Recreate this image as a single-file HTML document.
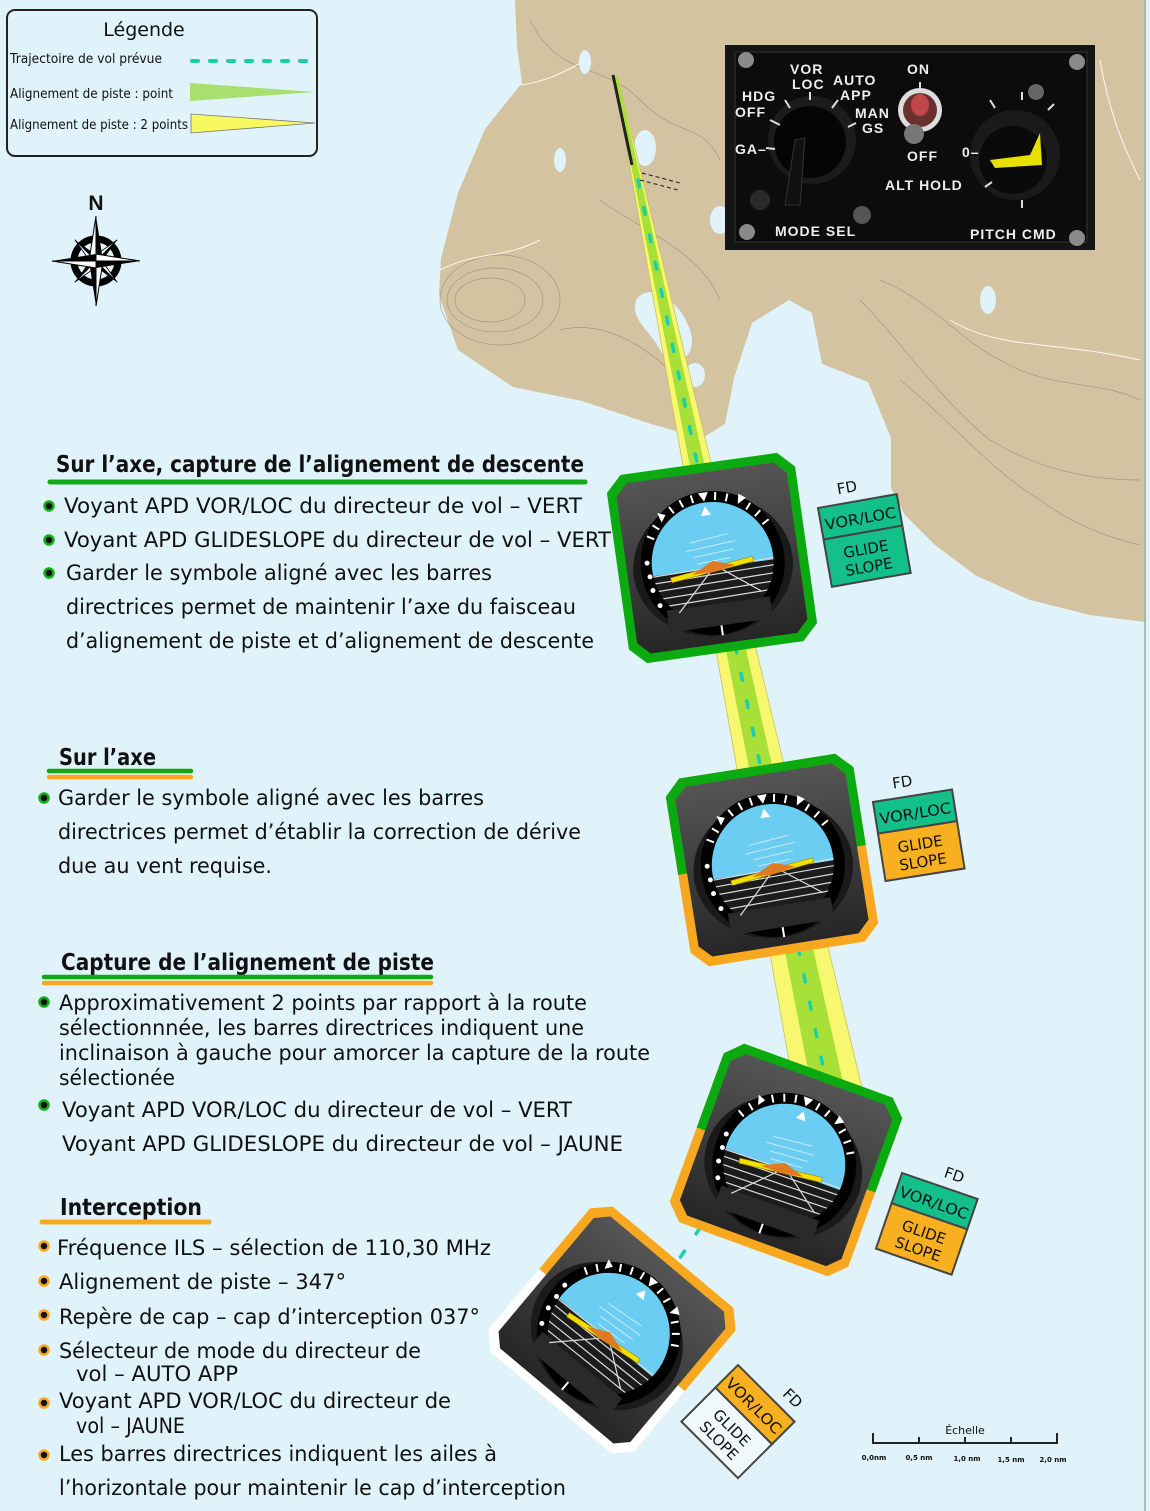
<!DOCTYPE html>
<html><head><meta charset="utf-8"><style>
html,body{margin:0;padding:0;background:#e0f2fa;}
svg{display:block;}
.t{font-family:"DejaVu Sans","Liberation Sans",sans-serif;font-size:21px;fill:#111;}
.h{font-family:"DejaVu Sans","Liberation Sans",sans-serif;font-size:23px;font-weight:bold;fill:#111;}
.p{font-family:"Liberation Sans",sans-serif;font-weight:bold;fill:#eee;font-size:14px;letter-spacing:1px;}
.fd{font-family:"DejaVu Sans","Liberation Sans",sans-serif;font-size:15px;fill:#111;}
</style></head><body>
<svg width="1150" height="1511" viewBox="0 0 1150 1511" xmlns="http://www.w3.org/2000/svg">
<defs>
<linearGradient id="fg" x1="0" y1="0" x2="0" y2="1"><stop offset="0" stop-color="#555"/><stop offset="1" stop-color="#262626"/></linearGradient>
<clipPath id="dial" clipPathUnits="userSpaceOnUse"><circle cx="0" cy="5" r="61"/></clipPath>
<clipPath id="top" clipPathUnits="userSpaceOnUse"><rect x="-130" y="-130" width="260" height="130"/></clipPath>
<g id="face">
<polygon points="-74,-86 74,-86 86,-74 86,74 74,86 -74,86 -86,74 -86,-74" fill="url(#fg)"/>
<ellipse cx="0" cy="8" rx="80" ry="70" fill="#1a1a1a"/>
<circle cx="0" cy="5" r="72" fill="#000"/>
<rect x="-52" y="46" width="104" height="22" fill="#2a2a2a"/>
<g clip-path="url(#dial)">
<rect x="-70" y="-70" width="140" height="80" fill="#6ccdf3"/>
<rect x="-70" y="10" width="140" height="36" fill="#1c1c1c"/>
<g stroke="#fff" stroke-width="1" opacity="0.6"><line x1="-20" y1="-18" x2="20" y2="-22"/><line x1="-25" y1="-10" x2="25" y2="-14"/><line x1="-18" y1="-3" x2="22" y2="-6"/><line x1="-15" y1="4" x2="18" y2="2"/></g>
<g stroke="#ddd" stroke-width="1.2"><line x1="-70" y1="11" x2="70" y2="8"/><line x1="-70" y1="18" x2="70" y2="15"/><line x1="-70" y1="26" x2="70" y2="23"/><line x1="-70" y1="34" x2="70" y2="31"/><line x1="-70" y1="42" x2="70" y2="39"/><line x1="0" y1="10" x2="-40" y2="50"/><line x1="5" y1="10" x2="45" y2="40"/></g>
</g>
<g stroke="#fff" stroke-width="2"><line x1="54.6" y1="-26.5" x2="61.5" y2="-30.5"/><line x1="48.3" y1="-35.5" x2="54.4" y2="-40.6"/><line x1="40.5" y1="-43.3" x2="45.6" y2="-49.4"/><line x1="21.5" y1="-54.2" x2="24.3" y2="-61.7"/><line x1="11" y1="-57" x2="12.4" y2="-64.9"/><line x1="-11" y1="-57" x2="-12.4" y2="-64.9"/><line x1="-21.5" y1="-54.2" x2="-24.3" y2="-61.7"/><line x1="-31.5" y1="-49.6" x2="-35.5" y2="-56.5"/><line x1="-48.3" y1="-35.5" x2="-54.4" y2="-40.6"/><line x1="-54.6" y1="-26.5" x2="-61.5" y2="-30.5"/><line x1="0" y1="68" x2="0" y2="78"/></g>
<polygon points="0,-57 -5,-66 5,-66" fill="#fff"/><polygon points="33,-50 35,-60 42,-55" fill="#fff"/><polygon points="-45,-42 -48,-52 -40,-49" fill="#fff"/>
<polygon points="0,-52 -5,-43 5,-43" fill="#fff"/>
<circle cx="-64" cy="10" r="2.5" fill="#fff"/><circle cx="-63" cy="24" r="2.5" fill="#fff"/><circle cx="-58" cy="40" r="2.5" fill="#fff"/><circle cx="-65" cy="-4" r="2.5" fill="#fff"/>
<polygon points="-44,14 40,4 41,9 -43,19" fill="#f2e000" stroke="#a08000" stroke-width="0.6"/>
<polygon points="-22,14 0,3 22,10 0,14" fill="#e07a20"/>
</g>
</defs>

<rect width="1150" height="1511" fill="#e0f2fa"/>
<!-- land -->
<path d="M515,0 L517,46 L522,83 L485,129 L458,193 L441,258 L439,295 L458,350 L513,387 L582,401 L651,424 L702,438 L725,424 L734,378 L752,323 L789,300 L812,313 L822,364 L868,382 L891,438 L891,488 L905,515 L935,545 L975,575 L1030,600 L1090,615 L1145,622 L1145,0 Z" fill="#d3c3a0"/>
<g fill="none" stroke="#8f8672" stroke-width="0.7" opacity="0.7">
<ellipse cx="490" cy="300" rx="35" ry="22"/><ellipse cx="495" cy="300" rx="48" ry="32"/><ellipse cx="500" cy="300" rx="60" ry="45"/>
<path d="M530,20 C560,80 600,60 640,100 C680,140 700,120 720,160"/><path d="M880,280 C930,300 960,340 1000,360 C1050,390 1100,380 1140,400"/>
<path d="M900,380 C950,420 990,470 1040,500 C1080,530 1120,540 1140,545"/><path d="M860,300 C900,340 940,400 990,440 C1040,470 1090,480 1140,480"/>
<path d="M600,200 C640,230 700,250 720,300"/><path d="M560,330 C600,320 640,340 680,380"/>
</g>
<g fill="none" stroke="#fff" stroke-width="1" opacity="0.9">
<path d="M520,85 C560,80 580,60 590,60"/><path d="M440,270 C480,250 500,260 540,240"/><path d="M950,320 C1000,350 1050,340 1140,360"/><path d="M1100,60 C1110,120 1130,160 1140,180"/>
</g>
<g fill="#e0f2fa"><ellipse cx="645" cy="148" rx="11" ry="18"/><ellipse cx="720" cy="220" rx="10" ry="14"/><path d="M636,300 C650,280 680,300 690,330 C700,360 670,370 660,350 C650,330 630,320 636,300Z"/><ellipse cx="585" cy="62" rx="6" ry="12"/><ellipse cx="695" cy="375" rx="10" ry="12"/><ellipse cx="988" cy="300" rx="8" ry="14"/><ellipse cx="560" cy="160" rx="6" ry="12"/></g>
<line x1="1145" y1="0" x2="1145" y2="1511" stroke="#9aa" stroke-width="1.5"/>

<!-- beam -->
<polygon points="614,78 618,78 865,1100 796,1100" fill="#f8f870" stroke="#c8c060" stroke-width="0.8"/>
<polygon points="614,78 618,78 847,1100 814,1100" fill="#a8e038"/>
<line x1="613" y1="75" x2="632" y2="165" stroke="#222" stroke-width="3"/>
<path d="M642,173 L680,183 M640,180 L678,190" stroke="#333" stroke-width="1.2" stroke-dasharray="4 3"/>
<line x1="638" y1="180" x2="830" y2="1100" stroke="#18d0b0" stroke-width="3.5" stroke-linecap="round" stroke-dasharray="7 21"/>
<line x1="700" y1="1228" x2="655" y2="1295" stroke="#18d0b0" stroke-width="3.5" stroke-linecap="round" stroke-dasharray="7 21"/>

<!-- legend -->
<rect x="7" y="10" width="310" height="146" rx="8" fill="#e0f2fa" stroke="#222" stroke-width="2"/>
<text x="144" y="36" font-family="DejaVu Sans,sans-serif" font-size="19" text-anchor="middle" fill="#111">Légende</text>
<text x="10" y="63" font-family="DejaVu Sans,sans-serif" font-size="13" fill="#111" textLength="152" lengthAdjust="spacingAndGlyphs">Trajectoire de vol prévue</text>
<text x="10" y="98" font-family="DejaVu Sans,sans-serif" font-size="13" fill="#111" textLength="163" lengthAdjust="spacingAndGlyphs">Alignement de piste : point</text>
<text x="10" y="129" font-family="DejaVu Sans,sans-serif" font-size="13" fill="#111" textLength="178" lengthAdjust="spacingAndGlyphs">Alignement de piste : 2 points</text>
<line x1="192" y1="61" x2="313" y2="61" stroke="#18d0a0" stroke-width="4" stroke-linecap="round" stroke-dasharray="6 12"/>
<polygon points="190,83 190,101 315,92" fill="#a8e070"/>
<polygon points="191,114 191,133 315,123" fill="#f8f860" stroke="#777" stroke-width="0.8"/>

<!-- compass -->
<text x="96" y="210" font-family="Liberation Sans,sans-serif" font-weight="bold" font-size="21" text-anchor="middle" fill="#111">N</text>
<g transform="translate(96,261)">
<circle r="22" fill="none" stroke="#000" stroke-width="7"/>
<g transform="rotate(45)"><polygon points="0,-30 5,0 0,0" fill="#000"/><polygon points="0,-30 -5,0 0,0" fill="#fff" stroke="#000" stroke-width="0.8"/><polygon points="0,30 -5,0 0,0" fill="#000"/><polygon points="0,30 5,0 0,0" fill="#fff" stroke="#000" stroke-width="0.8"/><polygon points="30,0 0,5 0,0" fill="#000"/><polygon points="30,0 0,-5 0,0" fill="#fff" stroke="#000" stroke-width="0.8"/><polygon points="-30,0 0,-5 0,0" fill="#000"/><polygon points="-30,0 0,5 0,0" fill="#fff" stroke="#000" stroke-width="0.8"/></g>
<polygon points="0,-45 7,0 0,0" fill="#000"/><polygon points="0,-45 -7,0 0,0" fill="#fff" stroke="#000"/>
<polygon points="0,45 -7,0 0,0" fill="#000"/><polygon points="0,45 7,0 0,0" fill="#fff" stroke="#000"/>
<polygon points="44,0 0,7 0,0" fill="#000"/><polygon points="44,0 0,-7 0,0" fill="#fff" stroke="#000"/>
<polygon points="-44,0 0,-7 0,0" fill="#000"/><polygon points="-44,0 0,7 0,0" fill="#fff" stroke="#000"/>
</g>

<!-- panel -->
<rect x="725" y="45" width="370" height="205" fill="#141414"/>
<rect x="735" y="52" width="352" height="190" fill="#0c0c0c" stroke="#333"/>
<g fill="#8a8a8a"><circle cx="746" cy="60" r="8"/><circle cx="1077" cy="62" r="8"/><circle cx="747" cy="232" r="8"/><circle cx="1077" cy="238" r="8"/><circle cx="862" cy="215" r="9" fill="#555"/><circle cx="760" cy="200" r="10" fill="#2a2a2a"/><circle cx="1036" cy="92" r="8" fill="#666"/></g>
<circle cx="812" cy="140" r="44" fill="#1c1c1c"/><circle cx="810" cy="142" r="36" fill="#050505"/>
<polygon points="795,140 805,138 800,205 785,205" fill="#111" stroke="#333"/>
<circle cx="920" cy="110" r="22" fill="#ddd"/><circle cx="920" cy="110" r="17" fill="#6a3030"/><ellipse cx="920" cy="105" rx="9" ry="11" fill="#c04848"/><circle cx="914" cy="134" r="10" fill="#777"/>
<circle cx="1015" cy="155" r="45" fill="#1a1a1a"/><circle cx="1013" cy="160" r="34" fill="#0a0a0a"/>
<polygon points="990,160 1030,155 1040,133 1042,165 995,168" fill="#e8e000"/>
<g stroke="#ddd" stroke-width="2"><line x1="766" y1="148" x2="775" y2="149"/><line x1="770" y1="120" x2="780" y2="125"/><line x1="785" y1="100" x2="790" y2="108"/><line x1="810" y1="92" x2="810" y2="100"/><line x1="832" y1="108" x2="838" y2="100"/><line x1="848" y1="127" x2="856" y2="123"/><line x1="920" y1="82" x2="920" y2="88"/><line x1="990" y1="100" x2="995" y2="108"/><line x1="1022" y1="92" x2="1022" y2="100"/><line x1="1048" y1="110" x2="1054" y2="104"/><line x1="985" y1="187" x2="992" y2="182"/><line x1="1022" y1="200" x2="1022" y2="208"/></g>
<text class="p" x="790" y="74">VOR</text><text class="p" x="792" y="89">LOC</text><text class="p" x="833" y="85">AUTO</text><text class="p" x="840" y="100">APP</text>
<text class="p" x="742" y="101">HDG</text><text class="p" x="735" y="117">OFF</text><text class="p" x="855" y="118">MAN</text><text class="p" x="862" y="133">GS</text><text class="p" x="735" y="154">GA–</text>
<text class="p" x="907" y="74">ON</text><text class="p" x="907" y="161">OFF</text><text class="p" x="885" y="190" font-weight="normal">ALT HOLD</text><text class="p" x="962" y="157">0–</text>
<text class="p" x="775" y="236" font-weight="normal">MODE SEL</text><text class="p" x="970" y="239" font-weight="normal">PITCH CMD</text>

<!-- instruments -->
<g transform="translate(712,558) rotate(-8)">
<polygon points="-79,-95 79,-95 95,-79 95,79 79,95 -79,95 -95,79 -95,-79" fill="#0aaa10"/>
<use href="#face"/></g>
<g transform="translate(772,860) rotate(-9)">
<polygon points="-79,-95 79,-95 95,-79 95,79 79,95 -79,95 -95,79 -95,-79" fill="#f8a820"/>
<polygon clip-path="url(#top)" points="-79,-95 79,-95 95,-79 95,79 79,95 -79,95 -95,79 -95,-79" fill="#0aaa10"/>
<use href="#face"/></g>
<g transform="translate(786,1160) rotate(20)">
<polygon points="-79,-95 79,-95 95,-79 95,79 79,95 -79,95 -95,79 -95,-79" fill="#f8a820"/>
<polygon clip-path="url(#top)" points="-79,-95 79,-95 95,-79 95,79 79,95 -79,95 -95,79 -95,-79" fill="#0aaa10"/>
<use href="#face" transform="rotate(0)"/></g>
<g transform="translate(612,1330) rotate(40)">
<polygon points="-79,-95 79,-95 95,-79 95,79 79,95 -79,95 -95,79 -95,-79" fill="#ffffff"/>
<polygon clip-path="url(#top)" points="-79,-95 79,-95 95,-79 95,79 79,95 -79,95 -95,79 -95,-79" fill="#f8a820"/>
<use href="#face"/></g>

<!-- FD boxes -->
<g transform="translate(818,508) rotate(-10)">
<text class="fd" x="22" y="-10">FD</text>
<rect x="0" y="0" width="80" height="32" fill="#14c08a" stroke="#444" stroke-width="2"/>
<rect x="0" y="32" width="80" height="48" fill="#14c08a" stroke="#444" stroke-width="2"/>
<text class="fd" x="40" y="23" text-anchor="middle" textLength="72" lengthAdjust="spacingAndGlyphs">VOR/LOC</text>
<text class="fd" x="40" y="54" text-anchor="middle">GLIDE</text><text class="fd" x="40" y="72" text-anchor="middle">SLOPE</text></g>
<g transform="translate(873,802) rotate(-9)">
<text class="fd" x="22" y="-10">FD</text>
<rect x="0" y="0" width="80" height="32" fill="#14c08a" stroke="#444" stroke-width="2"/>
<rect x="0" y="32" width="80" height="48" fill="#f8b020" stroke="#444" stroke-width="2"/>
<text class="fd" x="40" y="23" text-anchor="middle" textLength="72" lengthAdjust="spacingAndGlyphs">VOR/LOC</text>
<text class="fd" x="40" y="54" text-anchor="middle">GLIDE</text><text class="fd" x="40" y="72" text-anchor="middle">SLOPE</text></g>
<g transform="translate(902,1173) rotate(19)">
<text class="fd" x="40" y="-10">FD</text>
<rect x="0" y="0" width="80" height="32" fill="#14c08a" stroke="#444" stroke-width="2"/>
<rect x="0" y="32" width="80" height="48" fill="#f8b020" stroke="#444" stroke-width="2"/>
<text class="fd" x="40" y="23" text-anchor="middle" textLength="72" lengthAdjust="spacingAndGlyphs">VOR/LOC</text>
<text class="fd" x="40" y="54" text-anchor="middle">GLIDE</text><text class="fd" x="40" y="72" text-anchor="middle">SLOPE</text></g>
<g transform="translate(738,1365) rotate(45)">
<text class="fd" x="52" y="-10">FD</text>
<rect x="0" y="0" width="80" height="32" fill="#f8b020" stroke="#444" stroke-width="2"/>
<rect x="0" y="32" width="80" height="48" fill="#f0f8fc" stroke="#444" stroke-width="2"/>
<text class="fd" x="40" y="23" text-anchor="middle" textLength="72" lengthAdjust="spacingAndGlyphs">VOR/LOC</text>
<text class="fd" x="40" y="54" text-anchor="middle">GLIDE</text><text class="fd" x="40" y="72" text-anchor="middle">SLOPE</text></g>

<!-- scale -->
<g stroke="#222" stroke-width="2" fill="none"><path d="M873,1433 V1443 H1057 V1433"/><line x1="919" y1="1437" x2="919" y2="1443"/><line x1="965" y1="1437" x2="965" y2="1443"/><line x1="1011" y1="1437" x2="1011" y2="1443"/></g>
<text x="965" y="1434" font-family="DejaVu Sans,sans-serif" font-size="11" text-anchor="middle" fill="#111">Échelle</text>
<g font-family="DejaVu Sans,sans-serif" font-size="7" font-weight="bold" fill="#111" text-anchor="middle"><text x="874" y="1460">0,0nm</text><text x="919" y="1460">0,5 nm</text><text x="967" y="1461">1,0 nm</text><text x="1011" y="1462">1,5 nm</text><text x="1053" y="1462">2,0 nm</text></g>

<!-- text section 1 -->
<text class="h" x="56" y="472" textLength="528" lengthAdjust="spacingAndGlyphs">Sur l’axe, capture de l’alignement de descente</text>
<line x1="50" y1="482" x2="585" y2="482" stroke="#10a818" stroke-width="5" stroke-linecap="round"/>
<g stroke-width="2.5" fill="#111"><circle cx="49" cy="506" r="4.5" stroke="#10b018"/><circle cx="49" cy="540" r="4.5" stroke="#10b018"/><circle cx="49" cy="573" r="4.5" stroke="#10b018"/></g>
<text class="t" x="64" y="513" textLength="518" lengthAdjust="spacingAndGlyphs">Voyant APD VOR/LOC  du directeur de vol – VERT</text>
<text class="t" x="64" y="547" textLength="547" lengthAdjust="spacingAndGlyphs">Voyant APD GLIDESLOPE du directeur de vol – VERT</text>
<text class="t" x="66" y="580" textLength="426" lengthAdjust="spacingAndGlyphs">Garder le symbole aligné avec les barres</text>
<text class="t" x="66" y="614" textLength="510" lengthAdjust="spacingAndGlyphs">directrices permet de maintenir l’axe du faisceau</text>
<text class="t" x="66" y="648" textLength="528" lengthAdjust="spacingAndGlyphs">d’alignement de piste et d’alignement de descente</text>

<!-- section 2 -->
<text class="h" x="59" y="765" textLength="97" lengthAdjust="spacingAndGlyphs">Sur l’axe</text>
<line x1="49" y1="771" x2="191" y2="771" stroke="#10a818" stroke-width="4.5" stroke-linecap="round"/>
<line x1="49" y1="777" x2="191" y2="777" stroke="#f8a820" stroke-width="4.5" stroke-linecap="round"/>
<circle cx="44" cy="798" r="4.5" stroke="#10b018" stroke-width="2.5" fill="#111"/>
<text class="t" x="58" y="805" textLength="426" lengthAdjust="spacingAndGlyphs">Garder le symbole aligné avec les barres</text>
<text class="t" x="58" y="839" textLength="523" lengthAdjust="spacingAndGlyphs">directrices permet d’établir la correction de dérive</text>
<text class="t" x="58" y="873" textLength="214" lengthAdjust="spacingAndGlyphs">due au vent requise.</text>

<!-- section 3 -->
<text class="h" x="61" y="970" textLength="373" lengthAdjust="spacingAndGlyphs">Capture de l’alignement de piste</text>
<line x1="44" y1="977" x2="431" y2="977" stroke="#10a818" stroke-width="4.5" stroke-linecap="round"/>
<line x1="44" y1="983" x2="431" y2="983" stroke="#f8a820" stroke-width="4.5" stroke-linecap="round"/>
<circle cx="44" cy="1002" r="4.5" stroke="#10b018" stroke-width="2.5" fill="#111"/>
<circle cx="44" cy="1105" r="4.5" stroke="#10b018" stroke-width="2.5" fill="#111"/>
<text class="t" x="59" y="1010" textLength="528" lengthAdjust="spacingAndGlyphs">Approximativement 2 points par rapport à la route</text>
<text class="t" x="59" y="1035" textLength="525" lengthAdjust="spacingAndGlyphs">sélectionnnée, les barres directrices indiquent une</text>
<text class="t" x="59" y="1060" textLength="591" lengthAdjust="spacingAndGlyphs">inclinaison à gauche pour amorcer la capture de la route</text>
<text class="t" x="59" y="1085" textLength="116" lengthAdjust="spacingAndGlyphs">sélectionée</text>
<text class="t" x="62" y="1117" textLength="510" lengthAdjust="spacingAndGlyphs">Voyant APD VOR/LOC du directeur de vol – VERT</text>
<text class="t" x="62" y="1151" textLength="561" lengthAdjust="spacingAndGlyphs">Voyant APD GLIDESLOPE du directeur de vol – JAUNE</text>

<!-- section 4 -->
<text class="h" x="60" y="1215" textLength="142" lengthAdjust="spacingAndGlyphs">Interception</text>
<line x1="42" y1="1222" x2="209" y2="1222" stroke="#f8a820" stroke-width="5" stroke-linecap="round"/>
<g stroke="#f8a820" stroke-width="2.5" fill="#111"><circle cx="44" cy="1246" r="4.5"/><circle cx="44" cy="1281" r="4.5"/><circle cx="44" cy="1315" r="4.5"/><circle cx="44" cy="1350" r="4.5"/><circle cx="44" cy="1403" r="4.5"/><circle cx="44" cy="1455" r="4.5"/></g>
<text class="t" x="57" y="1255" textLength="434" lengthAdjust="spacingAndGlyphs">Fréquence ILS – sélection de 110,30 MHz</text>
<text class="t" x="59" y="1289" textLength="287" lengthAdjust="spacingAndGlyphs">Alignement de piste – 347°</text>
<text class="t" x="59" y="1324" textLength="421" lengthAdjust="spacingAndGlyphs">Repère de cap – cap d’interception 037°</text>
<text class="t" x="59" y="1358" textLength="362" lengthAdjust="spacingAndGlyphs">Sélecteur de mode du directeur de</text>
<text class="t" x="76" y="1381" textLength="162" lengthAdjust="spacingAndGlyphs">vol – AUTO APP</text>
<text class="t" x="59" y="1408" textLength="392" lengthAdjust="spacingAndGlyphs">Voyant APD VOR/LOC du directeur de</text>
<text class="t" x="76" y="1433" textLength="109" lengthAdjust="spacingAndGlyphs">vol – JAUNE</text>
<text class="t" x="59" y="1461" textLength="438" lengthAdjust="spacingAndGlyphs">Les barres directrices indiquent les ailes à</text>
<text class="t" x="59" y="1495" textLength="507" lengthAdjust="spacingAndGlyphs">l’horizontale pour maintenir le cap d’interception</text>
</svg>
</body></html>
